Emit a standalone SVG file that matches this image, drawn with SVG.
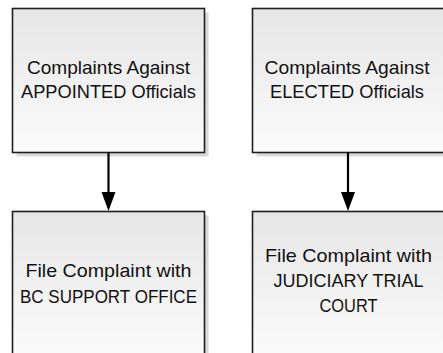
<svg xmlns="http://www.w3.org/2000/svg" width="443" height="353" viewBox="0 0 443 353">
<defs>
<linearGradient id="g" x1="0" y1="0" x2="0" y2="1">
<stop offset="0" stop-color="#e6e6e6"/>
<stop offset="1" stop-color="#fbfbfb"/>
</linearGradient>
</defs>
<style>
.shadow{fill:#d9d9d9}
.box{fill:url(#g);stroke:#1e1e1e;stroke-width:1.6}
.t{font-family:"Liberation Sans",Arial,sans-serif;font-size:19px;fill:#111;text-anchor:middle}
.line{stroke:#000;stroke-width:2.2;fill:none}
.head{fill:#000}
</style>
<rect width="443" height="353" fill="#fff"/>
<g id="node-appointed">
<rect class="shadow" x="16.5" y="12.5" width="192" height="144"/>
<rect class="box" x="12.5" y="8.5" width="192" height="144"/>
<text class="t" x="108.5" y="74" textLength="163" lengthAdjust="spacingAndGlyphs">Complaints Against</text>
<text class="t" x="108.5" y="98" textLength="175" lengthAdjust="spacingAndGlyphs">APPOINTED Officials</text>
</g>
<g id="node-elected">
<rect class="shadow" x="256.5" y="12.5" width="192" height="144"/>
<rect class="box" x="252.5" y="8.5" width="192" height="144"/>
<text class="t" x="347" y="74" textLength="165" lengthAdjust="spacingAndGlyphs">Complaints Against</text>
<text class="t" x="347" y="98" textLength="154" lengthAdjust="spacingAndGlyphs">ELECTED Officials</text>
</g>
<g id="node-bc">
<rect class="shadow" x="16.5" y="215.5" width="192" height="144"/>
<rect class="box" x="12.5" y="211.5" width="192" height="144"/>
<text class="t" x="108.5" y="277" textLength="166" lengthAdjust="spacingAndGlyphs">File Complaint with</text>
<text class="t" x="108.5" y="303" textLength="177" lengthAdjust="spacingAndGlyphs">BC SUPPORT OFFICE</text>
</g>
<g id="node-court">
<rect class="shadow" x="256.5" y="215.5" width="192" height="144"/>
<rect class="box" x="252.5" y="211.5" width="192" height="144"/>
<text class="t" x="348.5" y="262" textLength="167" lengthAdjust="spacingAndGlyphs">File Complaint with</text>
<text class="t" x="348.5" y="287" textLength="150" lengthAdjust="spacingAndGlyphs">JUDICIARY TRIAL</text>
<text class="t" x="348.5" y="312" textLength="58" lengthAdjust="spacingAndGlyphs">COURT</text>
</g>
<g id="connectors">
<line class="line" x1="108.5" y1="152.5" x2="108.5" y2="194"/>
<polygon class="head" points="101.5,192 115.5,192 108.5,211"/>
<line class="line" x1="348" y1="152.5" x2="348" y2="194"/>
<polygon class="head" points="341,192 355,192 348,211"/>
</g>
</svg>
